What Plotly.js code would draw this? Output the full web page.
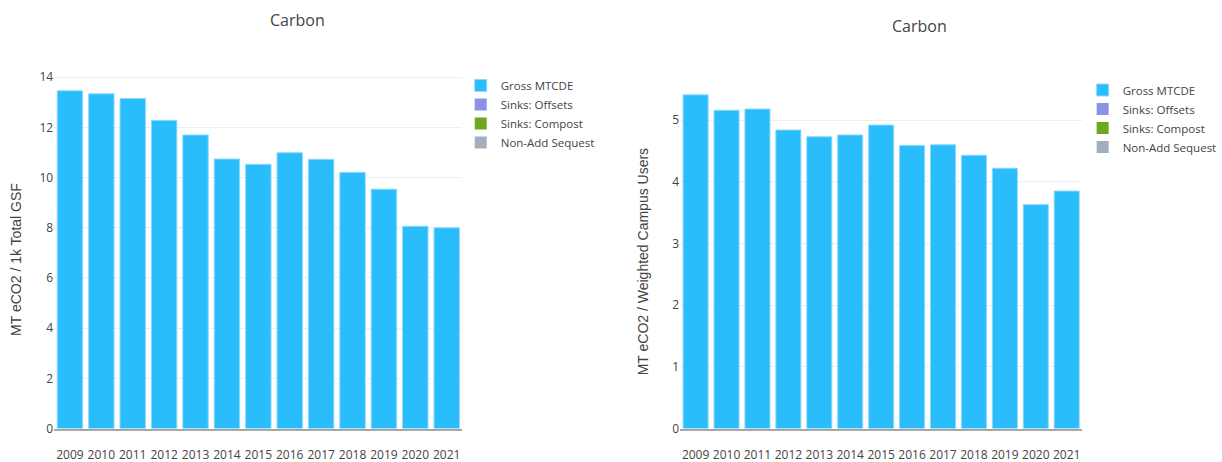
<!DOCTYPE html>
<html>
<head>
<meta charset="utf-8">
<script src="https://cdn.plot.ly/plotly-3.0.1.min.js"></script>
<style>
  html, body { margin: 0; padding: 0; background: #fff; }
  #chart { width: 1222px; height: 462px; }
</style>
</head>
<body>
<div id="chart"></div>
<script>
// Fiscal years shown on both panels
const years = ['2009', '2010', '2011', '2012', '2013', '2014', '2015',
               '2016', '2017', '2018', '2019', '2020', '2021'];

// Emissions per 1k total gross square feet (MT eCO2)
const grossPerGsf    = [13.46, 13.34, 13.15, 12.28, 11.70, 10.74, 10.53, 10.99, 10.73, 10.21, 9.54, 8.06, 8.00];
const offsetsPerGsf  = [0, 0, 0, 0, 0, 0, 0, 0, 0, 0, 0, 0, 0];
const compostPerGsf  = [0, 0, 0, 0, 0, 0, 0, 0, 0, 0, 0, 0, 0];
const sequestPerGsf  = [0, 0, 0, 0, 0, 0, 0, 0, 0, 0, 0, 0, 0];

// Emissions per weighted campus user (MT eCO2)
const grossPerUser   = [5.41, 5.16, 5.18, 4.84, 4.73, 4.76, 4.92, 4.59, 4.60, 4.43, 4.22, 3.63, 3.85];
const offsetsPerUser = [0, 0, 0, 0, 0, 0, 0, 0, 0, 0, 0, 0, 0];
const compostPerUser = [0, 0, 0, 0, 0, 0, 0, 0, 0, 0, 0, 0, 0];
const sequestPerUser = [0, 0, 0, 0, 0, 0, 0, 0, 0, 0, 0, 0, 0];

const seriesNames = ['Gross MTCDE', 'Sinks: Offsets', 'Sinks: Compost', 'Non-Add Sequest'];
const seriesColors = ['#29bdfb', '#8b93e8', '#6fa81b', '#a4afbe'];

const W = 1222, H = 462;
const px = v => v / W;           // horizontal pixel -> paper fraction
const py = v => (H - v) / H;     // vertical pixel (from top) -> paper fraction

function makeTraces(valueSets, xa, ya, legendId) {
  return valueSets.map((vals, i) => ({
    type: 'bar',
    x: years,
    y: vals,
    name: seriesNames[i],
    xaxis: xa,
    yaxis: ya,
    legend: legendId,
    marker: {
      color: seriesColors[i],
      line: { color: i === 0 ? '#8fd8fa' : 'rgba(0,0,0,0)', width: i === 0 ? 1 : 0 }
    },
    hoverinfo: 'x+y+name'
  }));
}

const traces = [
  ...makeTraces([grossPerGsf, offsetsPerGsf, compostPerGsf, sequestPerGsf], 'x', 'y', 'legend'),
  ...makeTraces([grossPerUser, offsetsPerUser, compostPerUser, sequestPerUser], 'x2', 'y2', 'legend2')
];

const tickFont = { family: '"Open Sans", sans-serif', size: 12, color: '#444' };
const titleFont = { family: '"Liberation Sans", Arial, sans-serif', size: 14, color: '#444' };

const xCommon = {
  type: 'category',
  showgrid: false,
  zeroline: false,
  showline: true,
  linecolor: '#a6a6a6',
  linewidth: 1.5,
  ticks: '',
  ticklabelstandoff: 14,
  tickfont: tickFont,
  automargin: false,
  fixedrange: true
};
const yCommon = {
  showgrid: true,
  gridcolor: '#eeeeee',
  zeroline: false,
  showline: false,
  ticks: '',
  tickfont: tickFont,
  automargin: false,
  fixedrange: true
};

const legendCommon = {
  xanchor: 'left',
  yanchor: 'top',
  font: { family: '"Open Sans", sans-serif', size: 11.5, color: '#444' },
  bgcolor: 'rgba(0,0,0,0)',
  tracegroupgap: 0
};

const layout = {
  width: W,
  height: H,
  margin: { l: 0, r: 0, t: 0, b: 0 },
  paper_bgcolor: '#fff',
  plot_bgcolor: '#fff',
  barmode: 'relative',
  bargap: 0.19,
  showlegend: true,
  xaxis:  Object.assign({}, xCommon, { domain: [px(54.5), px(464.7)], anchor: 'y' }),
  yaxis:  Object.assign({}, yCommon, { domain: [py(428.5), py(73)], range: [0, 14.17], dtick: 2, anchor: 'x' }),
  xaxis2: Object.assign({}, xCommon, { domain: [px(683.5), px(1087.5)], anchor: 'y2' }),
  yaxis2: Object.assign({}, yCommon, { domain: [py(428.5), py(78.2)], range: [0, 5.68], dtick: 1, anchor: 'x2' }),
  legend:  Object.assign({}, legendCommon, { x: px(463), y: py(71) }),
  legend2: Object.assign({}, legendCommon, { x: px(1088), y: py(75.5) }),
  annotations: [
    { text: 'Carbon', xref: 'paper', yref: 'paper', x: px(299), y: py(20),
      xanchor: 'center', yanchor: 'middle', showarrow: false,
      font: { family: '"Open Sans", sans-serif', size: 16, color: '#444' } },
    { text: 'Carbon', xref: 'paper', yref: 'paper', x: px(924), y: py(26),
      xanchor: 'center', yanchor: 'middle', showarrow: false,
      font: { family: '"Open Sans", sans-serif', size: 16, color: '#444' } },
    { text: 'MT eCO2 / 1k Total GSF', xref: 'paper', yref: 'paper', x: px(16), y: py(259),
      xanchor: 'center', yanchor: 'middle', textangle: -90, showarrow: false, font: titleFont },
    { text: 'MT eCO2 / Weighted Campus Users', xref: 'paper', yref: 'paper', x: px(646), y: py(261.5),
      xanchor: 'center', yanchor: 'middle', textangle: -90, showarrow: false, font: titleFont }
  ]
};

Plotly.newPlot('chart', traces, layout, { displayModeBar: false, responsive: false });
</script>
</body>
</html>
